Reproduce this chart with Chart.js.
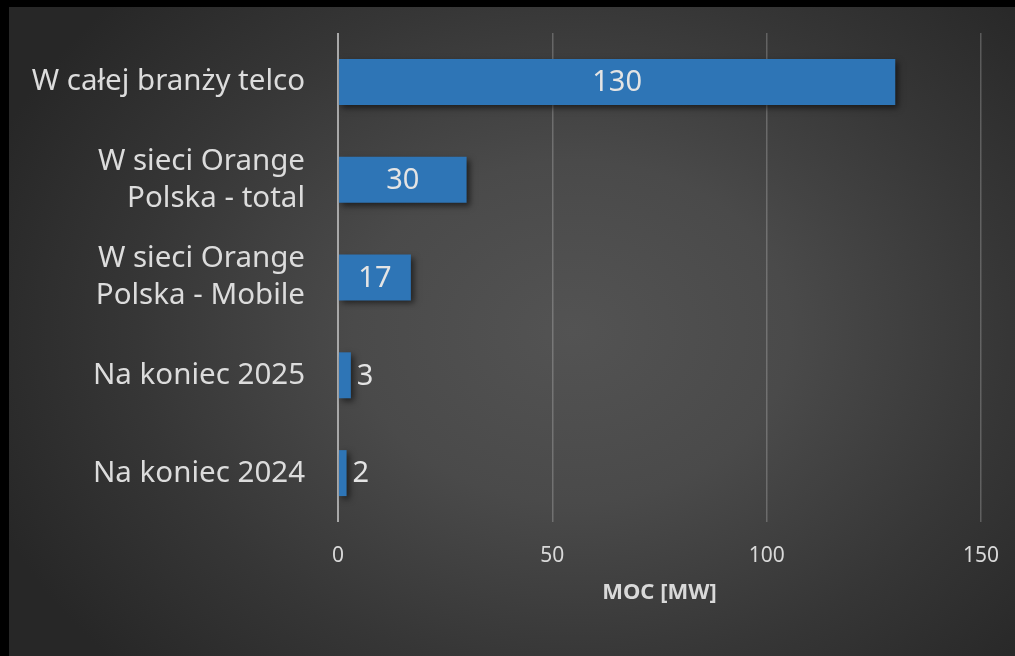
<!DOCTYPE html>
<html>
<head>
<meta charset="utf-8">
<script src="https://cdn.jsdelivr.net/npm/chart.js@4/dist/chart.umd.min.js"></script>
<style>
  html, body { margin: 0; padding: 0; background: #000; }
  #wrap {
    position: absolute; left: 9px; top: 7px; width: 1006px; height: 649px;
    background: radial-gradient(ellipse 62% 75% at 56% 50%, #535353 0%, #4a4a4a 35%, #363636 70%, #272727 100%);
  }
  canvas { display: block; }
</style>
</head>
<body>
<div id="wrap"><canvas id="c" width="1006" height="649"></canvas></div>
<script>
const categories = [
  "W całej branży telco",
  ["W sieci Orange", "Polska - total"],
  ["W sieci Orange", "Polska - Mobile"],
  "Na koniec 2025",
  "Na koniec 2024"
];
const values = [130, 30, 17, 3, 2];
const xTicks = [0, 50, 100, 150];
const axisTitle = "MOC [MW]";

const FONT = "'Noto Sans', 'Open Sans', sans-serif";

const shadowPlugin = {
  id: 'barShadow',
  beforeDatasetsDraw(chart) {
    const ctx = chart.ctx;
    ctx.save();
    ctx.shadowColor = 'rgba(0,0,0,0.55)';
    ctx.shadowBlur = 6;
    ctx.shadowOffsetX = 3;
    ctx.shadowOffsetY = 3;
  },
  afterDatasetsDraw(chart) {
    chart.ctx.restore();
  }
};

const labelPlugin = {
  id: 'valueLabels',
  afterDatasetsDraw(chart) {
    const ctx = chart.ctx;
    const meta = chart.getDatasetMeta(0);
    ctx.save();
    ctx.font = "29px " + FONT;
    ctx.fillStyle = '#e4e4e4';
    ctx.textBaseline = 'middle';
    meta.data.forEach((bar, i) => {
      const v = values[i];
      const text = String(v);
      const w = ctx.measureText(text).width;
      const len = bar.x - bar.base;
      if (len > w + 16) {
        ctx.textAlign = 'center';
        ctx.fillText(text, (bar.x + bar.base) / 2, bar.y + 1);
      } else {
        ctx.textAlign = 'left';
        ctx.fillText(text, bar.x + 6, bar.y + 1);
      }
    });
    ctx.restore();
  }
};

new Chart(document.getElementById('c'), {
  type: 'bar',
  data: {
    labels: categories,
    datasets: [{
      data: values,
      backgroundColor: '#2e75b6',
      borderWidth: 0,
      barPercentage: 0.47,
      categoryPercentage: 1
    }]
  },
  options: {
    indexAxis: 'y',
    responsive: false,
    animation: false,
    layout: { padding: { top: 26, right: 34, left: 0, bottom: 0 } },
    plugins: { legend: { display: false }, tooltip: { enabled: false } },
    scales: {
      x: {
        min: 0, max: 150,
        afterBuildTicks(scale) { scale.ticks = xTicks.map(v => ({ value: v })); },
        afterFit(scale) {
          scale.height = 134;
          scale.paddingLeft = 0;
          scale.paddingRight = 0;
        },
        grid: {
          drawTicks: false,
          color: ctx => ctx.index === 0 ? '#a8a8a8' : 'rgba(255,255,255,0.22)',
          lineWidth: ctx => ctx.index === 0 ? 2 : 1.5
        },
        border: { display: false },
        ticks: { color: '#d9d9d9', font: { family: FONT, size: 21 }, padding: 21 },
        title: {
          display: true, text: axisTitle, color: '#d9d9d9',
          font: { family: FONT, size: 22, weight: 'bold' },
          padding: { top: 0, bottom: 50 }
        }
      },
      y: {
        afterFit(scale) {
          scale.width = 329;
          scale.paddingTop = 0;
          scale.paddingBottom = 0;
        },
        grid: { display: false },
        border: { display: false },
        ticks: {
          color: '#dcdcdc',
          font: { family: FONT, size: 29.5, lineHeight: 1.26 },
          padding: 25
        }
      }
    }
  },
  plugins: [shadowPlugin, labelPlugin]
});
</script>
</body>
</html>
